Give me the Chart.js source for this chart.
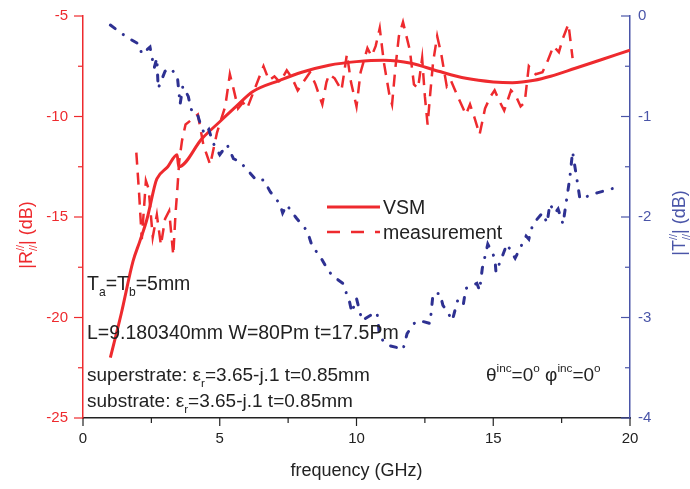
<!DOCTYPE html>
<html>
<head>
<meta charset="utf-8">
<script src="https://cdn.jsdelivr.net/npm/chart.js@4/dist/chart.umd.min.js"></script>
<style>
  body { margin: 0; background: #fff; }
  #wrap { width: 690px; height: 489px; }
</style>
</head>
<body>
<div id="wrap"><canvas id="graph" width="690" height="489"></canvas></div>
<script>
// simulation (VSM), |R| in dB
const vsmFreq = [1.0, 1.4, 1.83, 2.08, 2.34, 2.63, 2.7, 3.1, 3.44, 3.5, 4.35, 5.0, 5.6, 6.2, 7.2, 8, 9, 10, 11, 12, 13, 14, 15, 15.7, 16.5, 17.1, 18, 19, 20];
const vsmR = [-22, -19.8, -17.2, -16.2, -15.1, -13.4, -13.1, -12.5, -11.9, -12.5, -11.1, -10.26, -9.5, -8.77, -8.2, -7.8, -7.45, -7.27, -7.2, -7.35, -7.75, -8.1, -8.28, -8.32, -8.2, -8.0, -7.6, -7.15, -6.7];

// measurement, |R| in dB
const measFreq = [1.95, 2.05, 2.15, 2.3, 2.4, 2.55, 2.7, 2.85, 3.0, 3.15, 3.3, 3.38, 3.45, 3.52, 3.62, 3.75, 4.2, 4.4, 4.65, 4.9, 5.2, 5.37, 5.5, 5.67, 5.85, 6.0, 6.2, 6.6, 6.8, 7.0, 7.2, 7.45, 7.65, 7.85, 8.1, 8.3, 8.5, 8.75, 8.9, 9.0, 9.2, 9.45, 9.65, 9.8, 10.0, 10.15, 10.4, 10.55, 10.7, 10.85, 11.0, 11.2, 11.3, 11.42, 11.55, 11.7, 11.95, 12.1, 12.25, 12.4, 12.5, 12.6, 12.7, 12.8, 12.95, 13.1, 13.3, 13.45, 13.7, 14.0, 14.15, 14.3, 14.5, 14.7, 14.9, 15.05, 15.25, 15.4, 15.65, 15.8, 16.0, 16.15, 16.3, 16.55, 16.8, 17.0, 17.2, 17.4, 17.55, 17.75, 17.9];
const measR = [-11.8, -13.8, -16.1, -13.2, -13.6, -16.0, -14.9, -16.4, -15.1, -14.7, -16.9, -14.9, -13.6, -12.2, -11.2, -10.4, -9.9, -11.4, -12.4, -10.8, -9.5, -7.9, -8.6, -9.6, -9.3, -9.6, -8.9, -7.5, -8.2, -8.0, -8.3, -7.7, -8.1, -8.7, -8.2, -7.8, -8.4, -9.4, -8.3, -7.9, -8.1, -8.7, -6.9, -8.3, -9.5, -7.8, -6.6, -7.0, -6.5, -5.6, -7.3, -8.9, -9.4, -7.6, -6.0, -5.3, -6.7, -8.4, -8.6, -7.1, -9.0, -10.4, -8.8, -7.3, -6.0, -6.9, -8.5, -8.2, -9.0, -9.9, -9.4, -10.0, -10.9, -9.6, -9.0, -8.7, -9.3, -9.7, -8.7, -8.9, -9.5, -9.3, -7.5, -7.9, -7.8, -7.2, -6.5, -6.8, -6.1, -5.4, -7.1];

// measurement, |T| in dB (right axis)
const transFreq = [1.0, 1.6, 2.05, 2.15, 2.45, 2.6, 2.7, 2.75, 3.0, 3.2, 3.45, 3.55, 3.65, 3.85, 3.95, 4.15, 4.3, 4.45, 4.6, 4.75, 5.0, 5.27, 5.5, 5.74, 6.0, 6.36, 6.6, 6.85, 7.2, 7.3, 7.45, 7.8, 8.2, 8.4, 8.6, 8.9, 9.1, 9.5, 9.75, 9.83, 10.0, 10.2, 10.5, 10.75, 10.85, 11.2, 11.5, 11.7, 11.85, 12.1, 12.3, 12.69, 12.8, 13.05, 13.16, 13.3, 13.5, 13.7, 13.9, 14.0, 14.4, 14.5, 14.6, 14.8, 15.06, 15.1, 15.36, 15.5, 15.8, 16.2, 16.3, 16.45, 16.8, 16.97, 17.07, 17.26, 17.37, 17.55, 17.8, 17.9, 18.17, 18.8, 19.45];
const transT = [-0.09, -0.21, -0.28, -0.38, -0.31, -0.52, -0.42, -0.72, -0.55, -0.52, -0.6, -0.88, -0.7, -0.8, -0.93, -0.95, -1.08, -1.18, -1.13, -1.26, -1.38, -1.28, -1.42, -1.45, -1.53, -1.64, -1.63, -1.75, -1.87, -1.96, -1.88, -2.01, -2.14, -2.31, -2.36, -2.5, -2.58, -2.66, -2.85, -2.95, -2.81, -3.03, -2.98, -2.95, -3.2, -3.28, -3.3, -3.32, -3.16, -3.06, -3.03, -3.06, -2.76, -2.76, -2.88, -2.93, -3.03, -2.83, -2.88, -2.71, -2.66, -2.73, -2.51, -2.27, -2.41, -2.55, -2.37, -2.27, -2.41, -2.19, -2.22, -2.07, -1.96, -2.06, -1.87, -1.96, -1.92, -2.07, -1.61, -1.35, -1.82, -1.76, -1.71];

const freqLabels = [0, 5, 10, 15, 20];
const rLabels = [-25, -20, -15, -10, -5];
const tLabels = [-4, -3, -2, -1, 0];

const ROUGE = "#ee2a2e";
const BLEU = "#2e3192";
const BLEU_AXE = "#4a55a8";
const POLICE = "'Liberation Sans', Arial, sans-serif";

function points(xs, ys) {
	return xs.map((x, i) => ({ x: x, y: ys[i] }));
}

// texte avec indices / exposants
function texteRiche(ctx, x, y, parts, taille) {
	let cx = x;
	for (const p of parts) {
		if (p.t) {
			ctx.font = `${taille}px ${POLICE}`;
			ctx.fillText(p.t, cx, y);
			cx += ctx.measureText(p.t).width;
		} else {
			ctx.font = `${taille * 0.62}px ${POLICE}`;
			let w = 0;
			if (p.sup) {
				ctx.fillText(p.sup, cx, y - taille * 0.45);
				w = Math.max(w, ctx.measureText(p.sup).width);
			}
			if (p.sub) {
				ctx.fillText(p.sub, cx, y + taille * 0.3);
				w = Math.max(w, ctx.measureText(p.sub).width);
			}
			cx += w;
		}
	}
	return cx - x;
}

function largeurRiche(ctx, parts, taille) {
	ctx.save();
	ctx.globalAlpha = 0;
	const w = texteRiche(ctx, 0, 0, parts, taille);
	ctx.restore();
	return w;
}

const decorations = {
	id: "decorations",
	afterDraw(chart) {
		const ctx = chart.ctx;
		const sx = chart.scales.x;
		const sy = chart.scales.y;
		const sy1 = chart.scales.y1;
		const bas = sx.top;
		ctx.save();

		// graduations
		ctx.lineWidth = 1.2;
		ctx.strokeStyle = "#222";
		for (let v = 0; v <= 20; v += 2.5) {
			const px = sx.getPixelForValue(v);
			const l = v % 5 === 0 ? 8 : 5;
			ctx.beginPath();
			ctx.moveTo(px, bas);
			ctx.lineTo(px, bas + l);
			ctx.stroke();
		}
		ctx.strokeStyle = ROUGE;
		for (let v = -25; v <= -5; v += 2.5) {
			const py = sy.getPixelForValue(v);
			const l = v % 5 === 0 ? 9 : 5;
			ctx.beginPath();
			ctx.moveTo(sy.right, py);
			ctx.lineTo(sy.right - l, py);
			ctx.stroke();
		}
		ctx.strokeStyle = BLEU_AXE;
		for (let v = -4; v <= 0; v += 0.5) {
			const py = sy1.getPixelForValue(v);
			const l = Number.isInteger(v) ? 9 : 5;
			ctx.beginPath();
			ctx.moveTo(sy1.left, py);
			ctx.lineTo(sy1.left - l, py);
			ctx.stroke();
		}

		// titres des axes
		ctx.textBaseline = "alphabetic";
		ctx.fillStyle = "#222";
		ctx.font = `18px ${POLICE}`;
		ctx.textAlign = "center";
		ctx.fillText("frequency (GHz)", (sx.left + sx.right) / 2, 476);
		ctx.textAlign = "left";

		const titreR = [{ t: "|R" }, { sup: "//", sub: "//" }, { t: "| (dB)" }];
		const titreT = [{ t: "|T" }, { sup: "//", sub: "//" }, { t: "| (dB)" }];
		ctx.fillStyle = ROUGE;
		let w = largeurRiche(ctx, titreR, 18);
		ctx.save();
		ctx.translate(32, 235);
		ctx.rotate(-Math.PI / 2);
		texteRiche(ctx, -w / 2, 0, titreR, 18);
		ctx.restore();
		ctx.fillStyle = BLEU_AXE;
		w = largeurRiche(ctx, titreT, 18);
		ctx.save();
		ctx.translate(685, 223);
		ctx.rotate(-Math.PI / 2);
		texteRiche(ctx, -w / 2, 0, titreT, 18);
		ctx.restore();

		// légende
		ctx.strokeStyle = ROUGE;
		ctx.lineWidth = 3;
		ctx.beginPath();
		ctx.moveTo(327, 207);
		ctx.lineTo(380, 207);
		ctx.stroke();
		ctx.lineWidth = 2.5;
		ctx.setLineDash([13, 11]);
		ctx.beginPath();
		ctx.moveTo(327, 232);
		ctx.lineTo(380, 232);
		ctx.stroke();
		ctx.setLineDash([]);
		ctx.fillStyle = "#222";
		ctx.font = `19.5px ${POLICE}`;
		ctx.fillText("VSM", 383, 214);
		ctx.fillText("measurement", 383, 239);

		// annotations
		texteRiche(ctx, 87, 290, [{ t: "T" }, { sub: "a" }, { t: "=T" }, { sub: "b" }, { t: "=5mm" }], 19.5);
		texteRiche(ctx, 87, 339, [{ t: "L=9.180340mm W=80Pm t=17.5Pm" }], 19.5);
		texteRiche(ctx, 87, 381, [{ t: "superstrate: ε" }, { sub: "r" }, { t: "=3.65-j.1 t=0.85mm" }], 19);
		texteRiche(ctx, 87, 407, [{ t: "substrate: ε" }, { sub: "r" }, { t: "=3.65-j.1 t=0.85mm" }], 19);
		texteRiche(ctx, 486, 381, [{ t: "θ" }, { sup: "inc" }, { t: "=0" }, { sup: "o" }, { t: " φ" }, { sup: "inc" }, { t: "=0" }, { sup: "o" }], 19);

		ctx.restore();
	},
};

const data = {
	datasets: [
		{
			label: "measurement T",
			data: points(transFreq, transT),
			yAxisID: "y1",
			borderColor: BLEU,
			borderWidth: 3,
			borderDash: [6, 10, 0.1, 10],
			borderCapStyle: "round",
			pointRadius: 0,
			tension: 0,
		},
		{
			label: "measurement",
			data: points(measFreq, measR),
			yAxisID: "y",
			borderColor: ROUGE,
			borderWidth: 2.5,
			borderDash: [12, 8],
			pointRadius: 0,
			tension: 0,
		},
		{
			label: "VSM",
			data: points(vsmFreq, vsmR),
			yAxisID: "y",
			borderColor: ROUGE,
			borderWidth: 3,
			pointRadius: 0,
			cubicInterpolationMode: "monotone",
		},
	],
};

const config = {
	type: "line",
	data: data,
	plugins: [decorations],
	options: {
		responsive: false,
		animation: false,
		layout: { padding: { top: 6, left: 0, right: 0, bottom: 0 } },
		plugins: { legend: { display: false }, tooltip: { enabled: false } },
		scales: {
			x: {
				type: "linear",
				min: 0,
				max: 20,
				afterFit: (s) => { s.height = 71; },
				afterBuildTicks: (s) => { s.ticks = freqLabels.map((v) => ({ value: v })); },
				grid: { display: false },
				border: { color: "#222", width: 1.5 },
				ticks: { color: "#222", font: { family: POLICE, size: 15 }, padding: 4, maxRotation: 0 },
			},
			y: {
				position: "left",
				min: -25,
				max: -5,
				afterFit: (s) => { s.width = 83; },
				afterBuildTicks: (s) => { s.ticks = rLabels.map((v) => ({ value: v })); },
				grid: { display: false },
				border: { color: ROUGE, width: 1.5 },
				ticks: { color: ROUGE, font: { family: POLICE, size: 15 }, padding: 7 },
			},
			y1: {
				position: "right",
				min: -4,
				max: 0,
				afterFit: (s) => { s.width = 60; },
				afterBuildTicks: (s) => { s.ticks = tLabels.map((v) => ({ value: v })); },
				grid: { display: false },
				border: { color: BLEU_AXE, width: 1.5 },
				ticks: { color: BLEU_AXE, font: { family: POLICE, size: 15 }, padding: 0 },
			},
		},
	},
};

const graphique = new Chart(document.querySelector("#graph"), config);
</script>
</body>
</html>
